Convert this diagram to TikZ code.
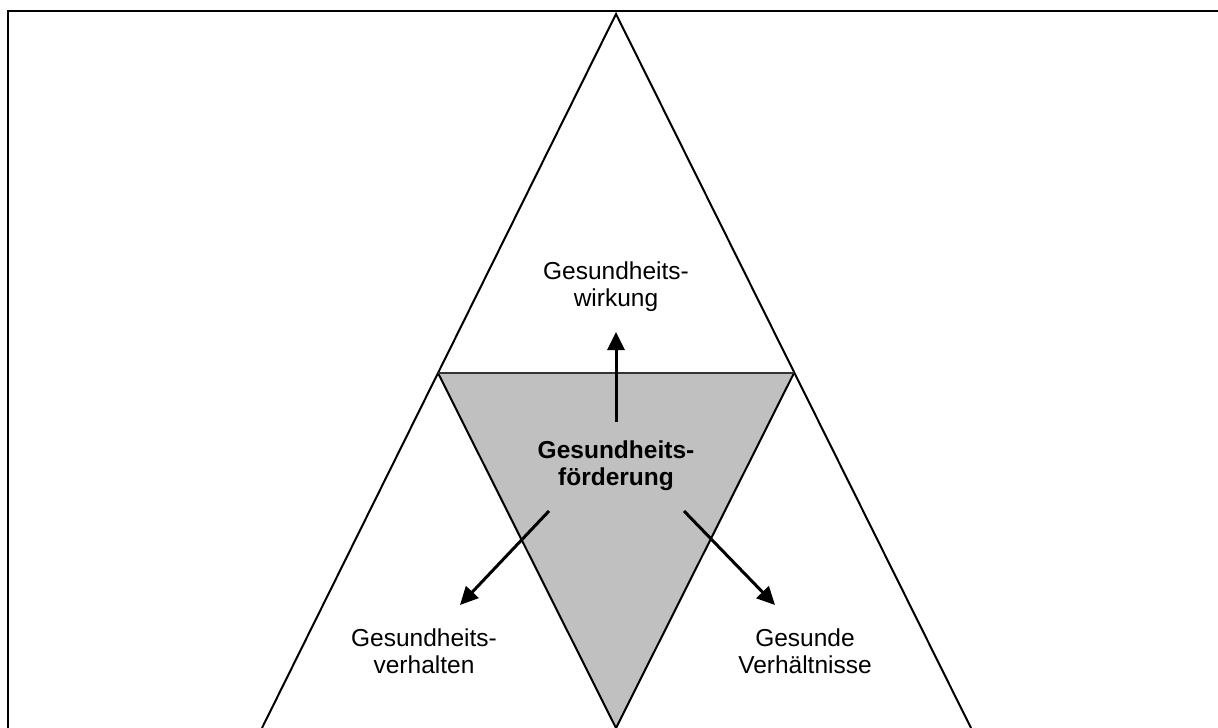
\documentclass[tikz,border=0pt]{standalone}
\usepackage{fontspec}
\setmainfont{Liberation Sans}
\usetikzlibrary{arrows.meta}
\definecolor{midgray}{RGB}{192,192,192}
\tikzset{
  lbl/.style={align=center, font=\fontsize{24.5}{27}\selectfont, inner sep=0pt},
  edge/.style={line width=2pt, line join=miter},
  arr/.style={line width=3pt, -{Triangle[length=18pt,width=17pt]}},
}
\begin{document}
\begin{tikzpicture}[x=1pt,y=-1pt]
\useasboundingbox (0,0) rectangle (1218,728);
% vertices
\coordinate (apex) at (616,14);
\coordinate (bl) at (262,728);
\coordinate (br) at (971,728);
\coordinate (ml) at (438,373);
\coordinate (mr) at (794,373);
\coordinate (bm) at (616,728);
% frame
\draw[line width=2.5pt] (8,728) -- (8,11) -- (1218,11);
% gray inner triangle
\fill[midgray] (ml) -- (mr) -- (bm) -- cycle;
\draw[edge] (bl) -- (apex) -- (br);
\draw[edge] (ml) -- (bm) -- (mr);
\draw[edge, black!80] (ml) -- (mr);
% labels
\node[lbl] (wirk) at (616,287) {Gesundheits-\\wirkung};
\node[lbl, font=\bfseries\fontsize{24.5}{27}\selectfont] (foerd) at (616,466) {Gesundheits-\\förderung};
\node[lbl] (verh) at (424,651) {Gesundheits-\\verhalten};
\node[lbl] (verhn) at (805,651) {Gesunde\\Verhältnisse};
% arrows
\coordinate (a0) at (616,422);
\coordinate (a1) at (616,332);
\coordinate (l0) at (549,511);
\coordinate (l1) at (460,605);
\coordinate (r0) at (684,511);
\coordinate (r1) at (775,605);
\draw[arr] (a0) -- (a1);
\draw[arr] (l0) -- (l1);
\draw[arr] (r0) -- (r1);
\end{tikzpicture}
\end{document}
